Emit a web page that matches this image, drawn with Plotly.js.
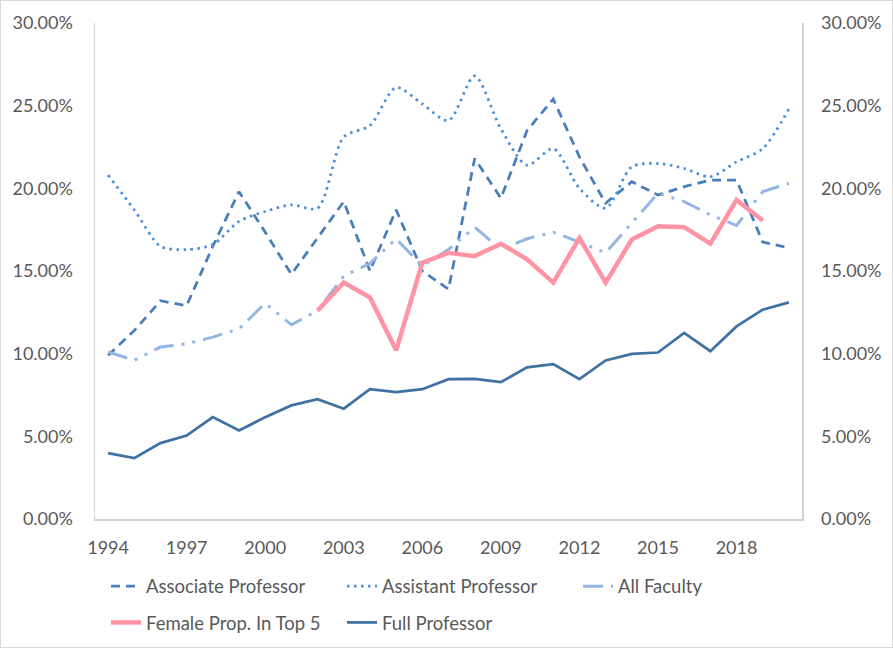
<!DOCTYPE html>
<html>
<head>
<meta charset="utf-8">
<script src="https://cdn.plot.ly/plotly-3.0.1.min.js"></script>
<style>
  html, body { margin: 0; padding: 0; background: #fff; }
  #chart { width: 893px; height: 648px; }
  #frame { position: absolute; left: 0; top: 0; width: 893px; height: 648px; box-sizing: border-box; border: 1px solid #d9d9d9; pointer-events: none; }
</style>
</head>
<body>
<div id="chart"></div>
<div id="frame"></div>
<script>
const years = [1994,1995,1996,1997,1998,1999,2000,2001,2002,2003,2004,2005,2006,2007,2008,2009,2010,2011,2012,2013,2014,2015,2016,2017,2018,2019,2020];
const xTickVals = [1994,1997,2000,2003,2006,2009,2012,2015,2018];
const yTickVals = [0,5,10,15,20,25,30];
const yTickText = ['0.00%','5.00%','10.00%','15.00%','20.00%','25.00%','30.00%'];

const associate = [9.9,11.4,13.2,12.9,16.5,19.8,17.35,14.8,17.0,19.2,15.0,18.7,15.0,13.9,21.8,19.4,23.5,25.4,21.9,19.1,20.4,19.6,20.1,20.5,20.5,16.75,16.4];
const assistant = [20.8,18.7,16.5,16.3,16.6,18.0,18.6,19.0,18.8,23.1,23.8,26.1,25.1,24.1,26.8,23.6,21.4,22.4,20.0,18.8,21.3,21.5,21.2,20.7,21.6,22.4,24.8];
const allFaculty = [10.1,9.6,10.4,10.6,11.0,11.5,13.05,11.75,12.6,14.7,15.45,16.95,15.3,16.3,17.65,16.3,16.95,17.35,16.75,16.1,17.9,19.7,19.2,18.4,17.75,19.8,20.3];
const femaleTop5 = [null,null,null,null,null,null,null,null,12.6,14.3,13.4,10.2,15.5,16.1,15.9,16.65,15.7,14.3,17.0,14.3,16.9,17.7,17.65,16.65,19.3,18.05,null];
const fullProf = [3.98,3.68,4.59,5.05,6.16,5.35,6.16,6.87,7.25,6.67,7.85,7.67,7.85,8.46,8.48,8.28,9.17,9.37,8.46,9.59,9.99,10.07,11.26,10.15,11.65,12.66,13.1];

const FONT = 'Lato, "Open Sans", sans-serif';
const TXT = '#595959';

const traces = [
  {x: years, y: associate, name: 'Associate Professor', type: 'scatter', mode: 'lines', legend: 'legend',
   line: {color: '#4a7ebb', width: 2.75, dash: '9px,6px'}},
  {x: years, y: assistant, name: 'Assistant Professor', type: 'scatter', mode: 'lines', legend: 'legend',
   line: {color: '#4d8fd6', width: 2.75, dash: '2.5px,4.5px', shape: 'spline', smoothing: 0.8}},
  {x: years, y: allFaculty, name: 'All Faculty', type: 'scatter', mode: 'lines', legend: 'legend',
   line: {color: '#93b6e3', width: 3, dash: '20px,8px,3px,8px,3px,8px'}},
  {x: years, y: femaleTop5, name: 'Female Prop. In Top 5', type: 'scatter', mode: 'lines', legend: 'legend2',
   line: {color: '#ff94a4', width: 4.5}},
  {x: years, y: fullProf, name: 'Full Professor', type: 'scatter', mode: 'lines', legend: 'legend2', yaxis: 'y2',
   line: {color: '#3f71a2', width: 2.75}}
];

const yCommon = {
  range: [0, 30], tickmode: 'array', tickvals: yTickVals, ticktext: yTickText,
  showgrid: false, zeroline: false, showline: true, linecolor: '#d4d4d4', linewidth: 1.5,
  ticks: '', tickfont: {family: FONT, size: 18, color: TXT}, fixedrange: true
};

const legendCommon = {
  orientation: 'h', x: -0.00001, xanchor: 'left', yanchor: 'top',
  borderwidth: 11, bordercolor: 'rgba(0,0,0,0)', bgcolor: 'rgba(0,0,0,0)',
  entrywidth: 191, entrywidthmode: 'pixels',
  font: {family: FONT, size: 18.5, color: TXT}
};

const layout = {
  width: 893, height: 648,
  margin: {l: 95, r: 91, t: 23, b: 129, autoexpand: false},
  paper_bgcolor: '#ffffff', plot_bgcolor: '#ffffff',
  showlegend: true,
  xaxis: {
    range: [1993.5, 2020.5], tickmode: 'array', tickvals: xTickVals, ticktext: xTickVals.map(String),
    showgrid: false, zeroline: false, showline: true, linecolor: '#d4d4d4', linewidth: 1.5,
    ticks: '', ticklabelstandoff: 12, tickfont: {family: FONT, size: 18, color: TXT}
  },
  yaxis: Object.assign({}, yCommon, {side: 'left', ticklabelstandoff: 17}),
  yaxis2: Object.assign({}, yCommon, {side: 'right', overlaying: 'y', ticklabelstandoff: 14}),
  legend: Object.assign({}, legendCommon, {y: -0.076}),
  legend2: Object.assign({}, legendCommon, {y: -0.149})
};

Plotly.newPlot('chart', traces, layout, {displayModeBar: false, staticPlot: true});
</script>
</body>
</html>
